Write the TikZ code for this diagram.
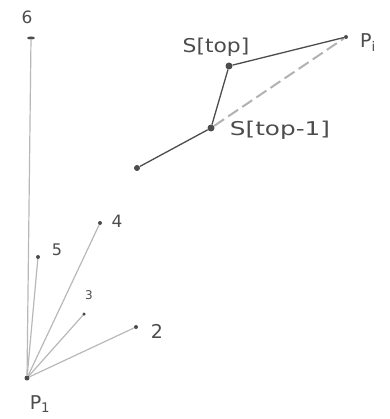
\documentclass[tikz,border=0pt]{standalone}
\usepackage{fontspec}
\usetikzlibrary{shapes.geometric}
\setmainfont{DejaVu Sans}
\begin{document}
\begin{tikzpicture}[x=1pt,y=-1pt,
  pt/.style={circle,fill=black!70,inner sep=0pt,minimum size=5pt},
  lbl/.style={text=black!70,inner sep=0pt,font=\fontsize{19}{21}\selectfont},
  ray/.style={draw=black!28,line width=1.2pt},
  hull/.style={draw=black!70,line width=1.3pt},
  test/.style={draw=black!30,line width=2pt,dash pattern=on 12pt off 5pt}]
\useasboundingbox (0,0) rectangle (389,419);
\node[pt] (p1) at (27,378) {};
\node[pt,minimum size=4pt] (p2) at (136,327) {};
\node[pt,minimum size=3.5pt] (p3) at (84,314) {};
\node[pt,minimum size=4pt] (p4) at (100,223) {};
\node[pt,minimum size=4pt] (p5) at (38,257) {};
\node[pt,ellipse,minimum width=8pt,minimum height=3pt] (p6) at (31,38) {};
\node[pt,minimum size=6pt] (a) at (137,168) {};
\node[pt,minimum size=7pt] (stm) at (211,128) {};
\node[pt,minimum size=7pt] (st) at (229,66) {};
\node[pt,minimum size=4pt] (pi) at (346,37) {};
\draw[ray] (p1) -- (p6);
\draw[ray] (p1) -- (p5);
\draw[ray] (p1) -- (p4);
\draw[ray] (p1) -- (p3);
\draw[ray] (p1) -- (p2);
\draw[test] (stm) -- (pi);
\draw[hull] (a) -- (stm) -- (st) -- (pi);
\node[lbl,font=\fontsize{17}{19}\selectfont] (l6) at (27,17) {6};
\node[lbl,font=\fontsize{16}{18}\selectfont] (l5) at (57,250) {5};
\node[lbl,font=\fontsize{17}{19}\selectfont] (l4) at (117,221) {4};
\node[lbl,font=\fontsize{12}{14}\selectfont] (l3) at (89,295) {3};
\node[lbl,font=\fontsize{19}{21}\selectfont] (l2) at (157,331) {2};
\node[lbl] (lp1) at (40,404) {P\textsubscript{1}};
\node[lbl,font=\fontsize{19}{21}\selectfont\addfontfeature{FakeStretch=1.15}] (lst) at (216,47) {S[top]};
\node[lbl,font=\fontsize{19}{21}\selectfont\addfontfeature{FakeStretch=1.3}] (lstm) at (280,130) {S[top-1]};
\node[lbl] (lpi) at (368,43) {P\textsubscript{i}};
\end{tikzpicture}
\end{document}
